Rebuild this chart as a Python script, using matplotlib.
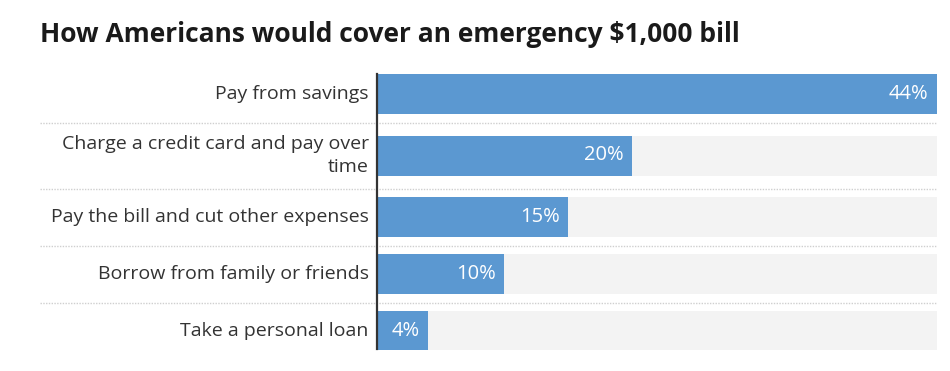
import textwrap
import matplotlib
matplotlib.use("Agg")
import matplotlib.pyplot as plt
from matplotlib.transforms import blended_transform_factory

title = "How Americans would cover an emergency $1,000 bill"
categories = [
    "Pay from savings",
    "Charge a credit card and pay over time",
    "Pay the bill and cut other expenses",
    "Borrow from family or friends",
    "Take a personal loan",
]
values = [44, 20, 15, 10, 4]

BAR = "#5b98d1"
TRACK = "#f3f3f3"
TEXT = "#333333"
FONT = ["Open Sans", "DejaVu Sans"]

W, H = 950, 371
fig = plt.figure(figsize=(W / 100, H / 100), dpi=100)

ax_left, ax_right, ax_top, ax_bottom = 377, 937, 74, 350
ax = fig.add_axes([ax_left / W, 1 - ax_bottom / H,
                   (ax_right - ax_left) / W, (ax_bottom - ax_top) / H])
ax.set_xlim(0, max(values))
ax.set_ylim(ax_bottom, ax_top)
ax.axis("off")

labels = [textwrap.fill(c, 35) for c in categories]
bar_h = 40
cursor = ax_top
seps = []
centers = []
for i, lab in enumerate(labels):
    nlines = lab.count("\n") + 1
    pad = 8.5 if nlines == 1 else 13
    top = cursor + (0 if i == 0 else pad)
    centers.append(top + bar_h / 2)
    cursor = top + bar_h + pad
    if i < len(labels) - 1:
        seps.append(cursor)

vmax = max(values)
ax.barh(centers, [vmax] * len(values), height=bar_h, color=TRACK, zorder=1)
ax.barh(centers, values, height=bar_h, color=BAR, zorder=2)

for c, v in zip(centers, values):
    ax.annotate(f"{v}%", xy=(v, c), xytext=(-6, 0), textcoords="offset points",
                ha="right", va="center", color="white", fontsize=14.5,
                family=FONT, zorder=3)

for c, lab in zip(centers, labels):
    ax.annotate(lab, xy=(0, c), xytext=(-6, 0), textcoords="offset points",
                ha="right", va="center", color=TEXT, fontsize=14,
                family=FONT, linespacing=1.38, multialignment="right")

trans = blended_transform_factory(fig.transFigure, ax.transData)
for s in seps:
    ax.plot([40 / W, ax_right / W], [s, s], transform=trans, color="#cfcfcf",
            lw=1, linestyle=(0, (1, 1)), clip_on=False, zorder=0)

ax.plot([0, 0], [ax_top, ax_bottom - 1], color="#333333", lw=1.6,
        clip_on=False, zorder=4)

fig.text(40 / W, 1 - 35 / H, title, ha="left", va="center", fontsize=19,
         fontweight="bold", color="#1a1a1a", family=FONT)

fig.savefig("out.png", dpi=100)
